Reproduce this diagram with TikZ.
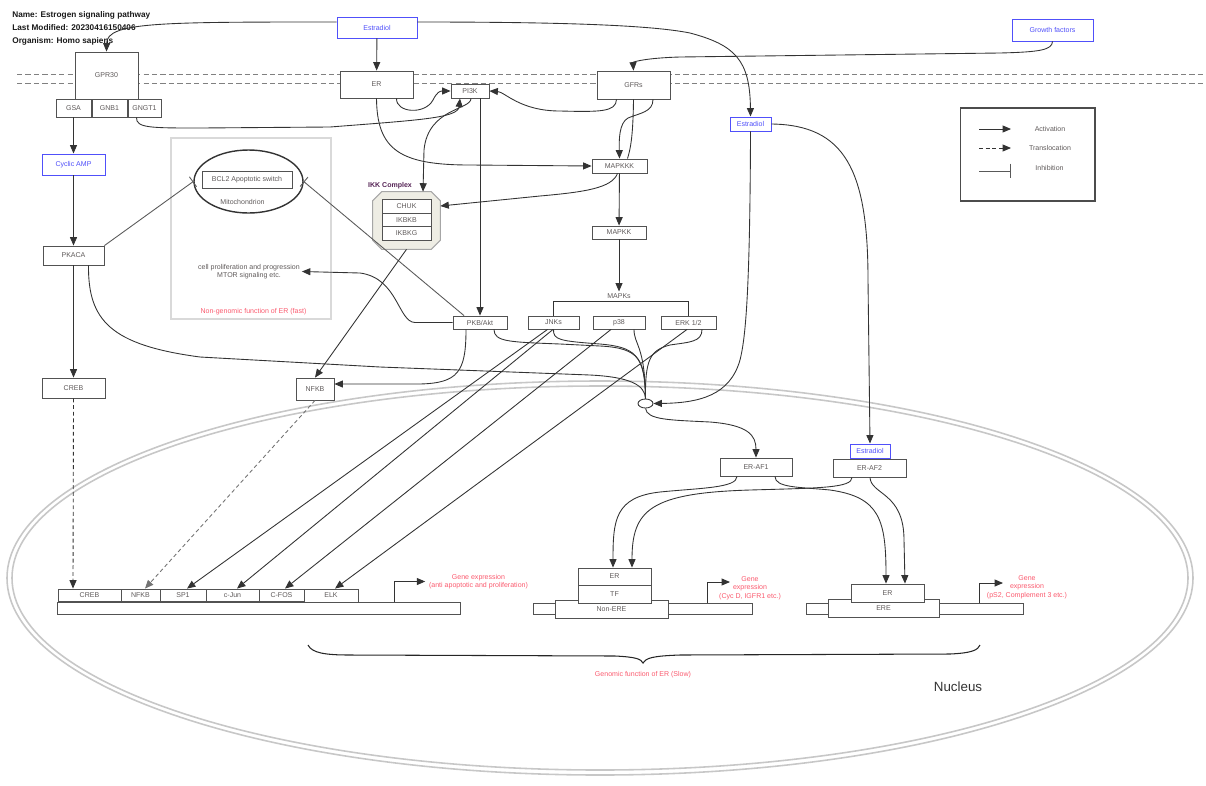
\documentclass[tikz,border=0pt]{standalone}
\usepackage{fontspec}
\setmainfont{Liberation Sans}
\usetikzlibrary{arrows.meta,positioning,calc,shapes.geometric}
\definecolor{ligBlue}{RGB}{80,80,250}
\definecolor{noteRed}{RGB}{250,90,110}
\definecolor{labGrey}{RGB}{95,90,90}
\definecolor{ikkFill}{RGB}{238,237,228}
\definecolor{ikkPurple}{RGB}{85,35,85}
\newcommand{\lblfont}{\fontsize{4}{4.9}\selectfont}
\tikzset{espanel/.style={
  prot/.style={draw=black!68, line width=0.5pt, fill=white, inner sep=0pt, font=\lblfont, text=labGrey},
  lig/.style={draw=ligBlue, line width=0.55pt, fill=white, inner sep=0pt, font=\lblfont, text=ligBlue},
  act/.style={-{Triangle[length=4.8pt,width=4pt]}, line width=0.5pt, draw=black!80},
  link/.style={line width=0.5pt, draw=black!80},
  trans/.style={-{Triangle[length=4.8pt,width=4pt]}, line width=0.5pt, draw=black!80, dash pattern=on 2.2pt off 1.6pt},
  inh/.style={-{Bar[width=7pt]}, line width=0.5pt, draw=black!65},
  note/.style={font=\lblfont, text=noteRed, align=center, inner sep=2pt},
  txt/.style={font=\lblfont, text=labGrey, align=center, inner sep=1pt},
  memb/.style={draw=black!50, line width=0.5pt, dash pattern=on 3pt off 1.8pt},
  nucl/.style={draw=black!22, line width=0.9pt},
}}

\begin{document}
\begin{tikzpicture}[espanel, x=0.02cm, y=-0.02cm]
\useasboundingbox (0,0) rectangle (1206,785);

% =====================================================================
% background: membrane, nucleus, non-genomic frame
% =====================================================================
\draw[memb] (17,74) -- (1206,74);
\draw[memb] (17,83) -- (1206,83);
\draw[nucl] (600,578) ellipse [x radius=593, y radius=197];
\draw[nucl] (600,578) ellipse [x radius=588, y radius=192];

\node[draw=black!15, line width=0.6pt, minimum width=3.2cm, minimum height=3.62cm] (nongen) at (251,228.5) {};
\node[note] (nongenLab) at (253.5,311.5) {Non-genomic function of ER (fast)};

\node[anchor=north west, align=left, inner sep=0pt, font=\fontsize{4.7}{7.4}\selectfont\bfseries, text=black!90] (title) at (12,11)
  {Name: Estrogen signaling pathway\\Last Modified: 20230416150406\\Organism: Homo sapiens};

% =====================================================================
% membrane and cytoplasm
% =====================================================================
\node[prot, minimum width=1.26cm, minimum height=0.94cm] (gpr30) at (106.5,75.5) {GPR30};
\node[prot, minimum width=0.70cm, minimum height=0.36cm] (gsa) at (73.5,108) {GSA};
\node[prot, minimum width=0.70cm, minimum height=0.36cm] (gnb1) at (109.5,108) {GNB1};
\node[prot, minimum width=0.66cm, minimum height=0.36cm] (gngt1) at (144.5,108) {GNGT1};

\node[lig, minimum width=1.6cm, minimum height=0.42cm] (estTop) at (377,27.5) {Estradiol};
\node[prot, minimum width=1.46cm, minimum height=0.54cm] (er) at (376.5,84.5) {ER};
\node[prot, minimum width=0.76cm, minimum height=0.28cm] (pi3k) at (470,91) {PI3K};
\node[prot, minimum width=1.46cm, minimum height=0.56cm] (gfrs) at (633.5,85) {GFRs};
\node[lig, minimum width=1.62cm, minimum height=0.44cm] (growth) at (1052.5,30) {Growth factors};
\node[lig, minimum width=0.82cm, minimum height=0.28cm] (estMid) at (750.5,124) {Estradiol};

\node[lig, minimum width=1.26cm, minimum height=0.42cm] (camp) at (73.5,164.5) {Cyclic AMP};
\node[prot, minimum width=1.22cm, minimum height=0.38cm] (pkaca) at (73.5,255.5) {PKACA};
\node[prot, minimum width=1.26cm, minimum height=0.40cm] (creb) at (73.5,388) {CREB};

\node[ellipse, draw=black!80, line width=0.8pt, inner sep=0pt, minimum width=2.18cm, minimum height=1.26cm] (mito) at (248.5,181.5) {};
\node[prot, minimum width=1.8cm, minimum height=0.34cm] (bcl2) at (247,179.5) {BCL2 Apoptotic switch};
\node[txt] (mitoLab) at (242.5,201.5) {Mitochondrion};
\node[txt] (prolif) at (249,271.5) {cell proliferation and progression\\MTOR signaling etc.};

\node[minimum width=1.34cm, minimum height=1.14cm, inner sep=0pt] (ikk) at (406.5,220.5) {};
\draw[draw=black!35, fill=ikkFill, line width=0.6pt]
  ($(ikk.north west)+(9,0)$) -- ($(ikk.north east)+(-9,0)$) -- ($(ikk.north east)+(0,9)$) -- ($(ikk.south east)+(0,-9)$)
  -- ($(ikk.south east)+(-9,0)$) -- ($(ikk.south west)+(9,0)$) -- ($(ikk.south west)+(0,-9)$) -- ($(ikk.north west)+(0,9)$) -- cycle;
\node[font=\lblfont\bfseries, text=ikkPurple, inner sep=0pt] (ikkLab) at (390,186) {IKK Complex};
\node[prot, minimum width=0.98cm, minimum height=0.28cm] (chuk) at (406.5,206) {CHUK};
\node[prot, minimum width=0.98cm, minimum height=0.28cm] (ikbkb) at (406.5,220) {IKBKB};
\node[prot, minimum width=0.98cm, minimum height=0.28cm] (ikbkg) at (406.5,233.5) {IKBKG};

\node[prot, minimum width=1.10cm, minimum height=0.28cm] (mapkkk) at (619.5,166) {MAPKKK};
\node[prot, minimum width=1.08cm, minimum height=0.26cm] (mapkk) at (619,232.5) {MAPKK};
\node[txt] (mapks) at (619,296) {MAPKs};
\node[prot, minimum width=1.08cm, minimum height=0.26cm] (pkb) at (480,322.5) {PKB/Akt};
\node[prot, minimum width=1.02cm, minimum height=0.26cm] (jnks) at (553.5,322.5) {JNKs};
\node[prot, minimum width=1.04cm, minimum height=0.26cm] (p38) at (619,322.5) {p38};
\node[prot, minimum width=1.10cm, minimum height=0.26cm] (erk) at (688.5,322.5) {ERK 1/2};
\node[prot, minimum width=0.76cm, minimum height=0.44cm] (nfkb) at (315,389) {NFKB};

\node[ellipse, draw=black!80, line width=0.5pt, fill=white, inner sep=0pt, minimum width=0.3cm, minimum height=0.18cm] (junc) at (645.5,403.5) {};

% =====================================================================
% nucleus
% =====================================================================
\node[prot, minimum width=1.44cm, minimum height=0.36cm] (erAF1) at (756,467) {ER-AF1};
\node[prot, minimum width=1.46cm, minimum height=0.36cm] (erAF2) at (869.5,468) {ER-AF2};
\node[lig, minimum width=0.8cm, minimum height=0.28cm] (estNuc) at (870,451) {Estradiol};

\node[prot, minimum width=8.06cm, minimum height=0.24cm] (dnaL) at (258.5,608) {};
\node[prot, minimum width=1.26cm, minimum height=0.24cm] (crebR) at (89.5,595) {CREB};
\node[prot, minimum width=0.78cm, minimum height=0.24cm] (nfkbR) at (140.5,595) {NFKB};
\node[prot, minimum width=0.92cm, minimum height=0.24cm] (sp1R) at (183,595) {SP1};
\node[prot, minimum width=1.06cm, minimum height=0.24cm] (cjunR) at (232.5,595) {c-Jun};
\node[prot, minimum width=0.90cm, minimum height=0.24cm] (cfosR) at (281.5,595) {C-FOS};
\node[prot, minimum width=1.08cm, minimum height=0.26cm] (elkR) at (331,595.5) {ELK};
\node[note] (geneL) at (478.5,581.5) {Gene expression\\(anti apoptotic and proliferation)};

\node[prot, minimum width=0.44cm, minimum height=0.22cm] (stubML) at (544,608.5) {};
\node[prot, minimum width=1.68cm, minimum height=0.22cm] (stubMR) at (710,608.5) {};
\node[prot, minimum width=2.26cm, minimum height=0.36cm] (nonERE) at (611.5,609) {Non-ERE};
\node[prot, minimum width=1.46cm, minimum height=0.36cm] (tfM) at (614.5,594) {TF};
\node[prot, minimum width=1.46cm, minimum height=0.34cm] (erM) at (614.5,576.5) {ER};
\node[note] (geneM) at (750,588) {Gene\\expression\\(Cyc D, IGFR1 etc.)};
\coordinate (tssM) at (730,582);

\node[prot, minimum width=0.44cm, minimum height=0.22cm] (stubRL) at (817,608.5) {};
\node[prot, minimum width=1.68cm, minimum height=0.22cm] (stubRR) at (981,608.5) {};
\node[prot, minimum width=2.22cm, minimum height=0.36cm] (ere) at (883.5,608) {ERE};
\node[prot, minimum width=1.46cm, minimum height=0.36cm] (erR) at (887.5,593) {ER};
\node[note] (geneR) at (1027,587) {Gene\\expression\\(pS2, Complement 3 etc.)};
\coordinate (tssR) at (1003,583);

\node[note] (genomLab) at (643,675) {Genomic function of ER (Slow)};
\node[font=\fontsize{7.6}{9}\selectfont, text=black!80, inner sep=0pt] (nucLab) at (958,687) {Nucleus};

% =====================================================================
% signalling edges
% =====================================================================
\draw[act] ($(estTop.west)+(0,-5.5)$) .. controls (160,22) and (107,22) .. (gpr30.north);
\draw[act] (estTop) -- (er);
\draw[act] ($(estTop.east)+(0,-5.5)$) .. controls (560,22) and (650,25) .. (690,33) .. controls (735,45) and (750,60) .. (estMid.north);
\draw[act] (growth.south) .. controls (1052,50) and (1040,52) .. (1000,53) -- (680,57) .. controls (645,58) and (633,62) .. (gfrs.north);

\draw[act] (gsa) -- (camp);
\draw[act] (camp) -- (pkaca);
\draw[act] (pkaca) -- (creb);
\draw[act] ($(gngt1.south)+(-8,0)$) .. controls (136,128) and (150,128) .. (200,128) -- (330,127) .. controls (420,120) and (458,118) .. ($(pi3k.south)+(-10,0)$);

\draw[act] (er.south) .. controls (377,150) and (400,165) .. (470,165) -- (mapkkk.west);
\draw[act] ($(er.south)+(20,0)$) .. controls (396,113) and (425,115) .. (433,100) .. controls (437,92) and (440,91) .. (pi3k.west);
\draw[act] ($(gfrs.south)+(-17,0)$) .. controls (616,112) and (600,112) .. (560,111) .. controls (520,111) and (505,92) .. (pi3k.east);
\draw[link] (gfrs.south) .. controls (633,140) and (630,150) .. ($(mapkkk.north)+(8,0)$);
\draw[act] ($(gfrs.south)+(19.5,0)$) .. controls (653,112) and (640,113) .. (628,118) .. controls (619,123) and (619,140) .. (mapkkk.north);

\draw[act] ($(pi3k.south)+(1,0)$) .. controls (471,110) and (428,108) .. (424,150) -- ($(ikk.north)+(16.5,0)$);
\draw[act] ($(pi3k.south)+(10,0)$) -- (pkb.north);
\draw[act] ($(mapkkk.south)+(-2,0)$) .. controls (612,188) and (585,192) .. (540,196) -- ($(ikk.east)+(0,-14.5)$);
\draw[act] (mapkkk) -- (mapkk);
\draw[act] (mapkk) -- (mapks);
\draw[link] (jnks.north) -- ++(0,-14) -| (erk.north);

\draw[act] (pkb.west) -- (415,322.5) .. controls (398,322) and (398,278) .. (360,273) -- (prolif.east);
\draw[inh] (pkaca.north east) -- (mito.west);
\draw[inh] ($(pkb.north)+(-16,0)$) -- (mito.east);

\draw[act] (ikk.south) -- (nfkb.north);
\draw[act] ($(pkb.south)+(-14,0)$) .. controls (466,372) and (458,383) .. (420,384) -- ($(nfkb.east)+(0,-5)$);

% converging on the ER complex
\draw[link] ($(pkb.south)+(14,0)$) .. controls (494,342) and (510,342) .. (560,344) -- (600,346) .. controls (640,348) and (645,360) .. (junc.north);
\draw[link] (jnks.south) .. controls (553,340) and (560,341) .. (600,344) .. controls (635,347) and (645,355) .. (junc.north);
\draw[link] ($(p38.south)+(15,0)$) .. controls (634,345) and (645,345) .. (junc.north);
\draw[link] ($(erk.south)+(13.5,0)$) .. controls (702,342) and (690,342) .. (670,345) .. controls (650,350) and (645,360) .. (junc.north);
\draw[link] ($(pkaca.south)+(15,0)$) .. controls (88,320) and (110,345) .. (200,357) -- (380,367) -- (590,375) .. controls (630,377) and (645,385) .. (junc.north);
\draw[act] (estMid.south) .. controls (750,300) and (745,340) .. (740,360) .. controls (730,395) and (700,403) .. (junc.east);
\draw[act] (estMid.east) .. controls (845,125) and (868,170) .. (868,280) -- (estNuc.north);
\draw[act] (junc.south) .. controls (647,420) and (670,420) .. (710,422) .. controls (748,425) and (756,435) .. (erAF1.north);

\draw[act] ($(erAF1.south)+(-19,0)$) .. controls (737,488) and (700,488) .. (660,492) .. controls (615,497) and (613,520) .. ($(erM.north)+(-1.5,0)$);
\draw[act] ($(erAF2.south)+(-17.5,0)$) .. controls (852,488) and (820,488) .. (750,490) .. controls (650,493) and (632,510) .. ($(erM.north)+(17.5,0)$);
\draw[act] ($(erAF1.south)+(19,0)$) .. controls (775,488) and (800,487) .. (830,490) .. controls (880,497) and (886,520) .. ($(erR.north)+(-1.5,0)$);
\draw[act] ($(erAF2.south)+(0.5,0)$) .. controls (871,495) and (904,492) .. (904,540) -- ($(erR.north)+(17.5,0)$);

% to the promoter
\draw[trans] (creb.south) -- ($(crebR.north)+(-16.5,0)$);
\draw[trans, draw=black!55] (nfkb.south) -- ($(nfkbR.north)+(4.5,0)$);
\draw[act] ($(jnks.south)+(-6,0)$) -- ($(sp1R.north)+(4,0)$);
\draw[act] ($(jnks.south)+(-0.5,0)$) -- ($(cjunR.north)+(4.5,0)$);
\draw[act] ($(p38.south)+(-8,0)$) -- ($(cfosR.north)+(3.5,0)$);
\draw[act] ($(erk.south)+(-1.5,0)$) -- ($(elkR.north)+(4,0)$);

\draw[act] ($(dnaL.north west)+(338,0)$) |- (geneL.west);
\draw[act] ($(stubMR.north west)+(40,0)$) |- (tssM);
\draw[act] ($(stubRR.north west)+(41,0)$) |- (tssR);

% brace under the genomic part
\draw[draw=black!85, line width=0.6pt] (308,645) .. controls (312,653) and (325,655) .. (350,655) -- (615,656)
  .. controls (636,657) and (641,659) .. (643,663) .. controls (646,658) and (652,656) .. (680,655) -- (950,654)
  .. controls (972,653) and (978,650) .. (980,645);

% =====================================================================
% legend
% =====================================================================
\node[draw=black!70, line width=0.6pt, minimum width=2.7cm, minimum height=1.86cm] (legend) at (1027.5,154.5) {};
\coordinate (lgActA) at (979,129);  \coordinate (lgActB) at (1011,129);
\coordinate (lgTrA) at (979,148);   \coordinate (lgTrB) at (1011,148);
\coordinate (lgInA) at (979,171);   \coordinate (lgInB) at (1011,171);
\draw[act] (lgActA) -- (lgActB);
\draw[trans] (lgTrA) -- (lgTrB);
\draw[inh, -{Bar[width=8.5pt]}] (lgInA) -- (lgInB);
\node[txt] (lgActLab) at (1050,129) {Activation};
\node[txt] (lgTrLab) at (1050,148) {Translocation};
\node[txt] (lgInLab) at (1049.5,168) {Inhibition};

\end{tikzpicture}
\end{document}
